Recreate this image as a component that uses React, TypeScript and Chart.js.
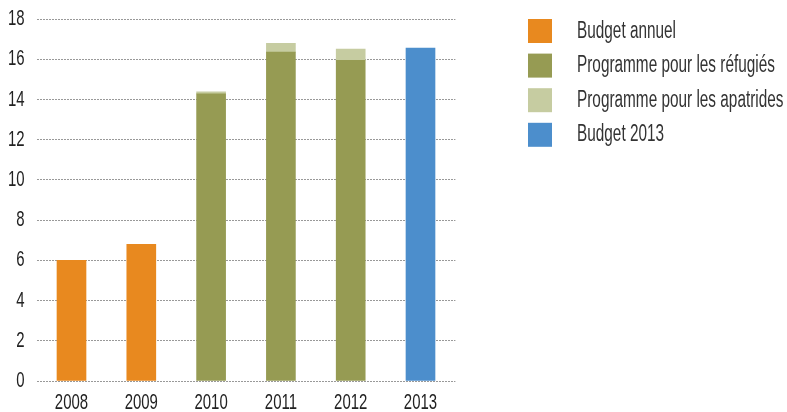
import React, { useEffect, useRef } from "react";
import { Chart, registerables } from "chart.js";

Chart.register(...registerables);

const years = ["2008", "2009", "2010", "2011", "2012", "2013"];
const budgetAnnuel = [6.0, 6.8, null, null, null, null];
const refugies = [null, null, 14.28, 16.35, 15.95, null];
const apatrides = [null, null, 0.1, 0.44, 0.55, null];
const budget2013 = [null, null, null, null, null, 16.55];
const yTicks = [0, 2, 4, 6, 8, 10, 12, 14, 16, 18];
const seriesLabels = [
  "Budget annuel",
  "Programme pour les réfugiés",
  "Programme pour les apatrides",
  "Budget 2013",
];
const colors = ["#E8891F", "#969B53", "#C6CCA1", "#4C8ECC"];

const FONT = "'Liberation Sans', Arial, sans-serif";
const TICK_SX = 0.68;

// draw the scale's own label items, horizontally condensed
function condensedDrawLabels(this: any, chartArea: any) {
  const ctx = this.ctx;
  const items = this.getLabelItems(chartArea);
  for (const item of items) {
    const { label, font, options, textOffset } = item;
    const [tx, ty] = options.translation;
    ctx.save();
    ctx.translate(tx, ty);
    if (options.rotation) ctx.rotate(options.rotation);
    ctx.scale(TICK_SX, 1);
    ctx.font = font.string;
    ctx.fillStyle = options.color;
    ctx.textAlign = options.textAlign;
    ctx.textBaseline = options.textBaseline;
    ctx.fillText(String(label), 0, textOffset || 0);
    ctx.restore();
  }
}

const legendPlugin = {
  id: "customLegend",
  afterDraw(chart: any) {
    const ctx = chart.ctx;
    const datasets = chart.data.datasets;
    ctx.save();
    ctx.font = `23px ${FONT}`;
    const ref = ctx.measureText(seriesLabels[0]).width;
    const sx = ref > 0 ? 99 / ref : 1;
    datasets.forEach((ds: any, i: number) => {
      const y = 19 + i * 34.6;
      ctx.fillStyle = ds.backgroundColor;
      ctx.fillRect(528, y, 24, 24);
      ctx.save();
      ctx.translate(577, y + 18.5);
      ctx.scale(sx, 1);
      ctx.fillStyle = "#333333";
      ctx.textBaseline = "alphabetic";
      ctx.textAlign = "left";
      ctx.fillText(ds.label, 0, 0);
      ctx.restore();
    });
    ctx.restore();
  },
};

export default function App() {
  const ref = useRef<HTMLCanvasElement | null>(null);
  useEffect(() => {
    if (!ref.current) return;
    const chart = new Chart(ref.current, {
      type: "bar",
      data: {
        labels: years,
        datasets: [
          { label: seriesLabels[0], data: budgetAnnuel, backgroundColor: colors[0] },
          { label: seriesLabels[1], data: refugies, backgroundColor: colors[1] },
          { label: seriesLabels[2], data: apatrides, backgroundColor: colors[2] },
          { label: seriesLabels[3], data: budget2013, backgroundColor: colors[3] },
        ] as any,
      },
      options: {
        animation: false,
        responsive: false,
        maintainAspectRatio: false,
        layout: { padding: { top: 19, right: 331.6, left: 0, bottom: 0 } },
        datasets: { bar: { barThickness: 29, skipNull: true } } as any,
        plugins: { legend: { display: false }, tooltip: { enabled: false } },
        scales: {
          x: {
            stacked: true,
            grid: { display: false, drawTicks: false },
            border: { display: false },
            ticks: { color: "#222222", font: { family: FONT, size: 22 }, padding: 9 },
            afterFit(scale: any) {
              scale.height = 31;
              scale.paddingLeft = 0;
              scale.paddingRight = 0;
              scale.drawLabels = condensedDrawLabels;
            },
          },
          y: {
            stacked: true,
            min: yTicks[0],
            max: yTicks[yTicks.length - 1],
            afterBuildTicks(scale: any) {
              scale.ticks = yTicks.map((v) => ({ value: v }));
            },
            grid: {
              color: "#999999",
              lineWidth: 1,
              drawTicks: false,
            },
            border: { display: false, dash: [2, 1] },
            ticks: {
              color: "#222222",
              font: { family: FONT, size: 22 },
              padding: 12,
            },
            afterFit(scale: any) {
              scale.width = 36.6;
              scale.paddingTop = 0;
              scale.paddingBottom = 0;
              scale.drawLabels = condensedDrawLabels;
            },
          },
        },
      } as any,
      plugins: [legendPlugin],
    });
    return () => chart.destroy();
  }, []);
  return (
    <div style={{ position: "fixed", left: 0, top: 0, width: 787, height: 412, background: "#fff" }}>
      <canvas ref={ref} width={787} height={412} style={{ display: "block" }} />
    </div>
  );
}
